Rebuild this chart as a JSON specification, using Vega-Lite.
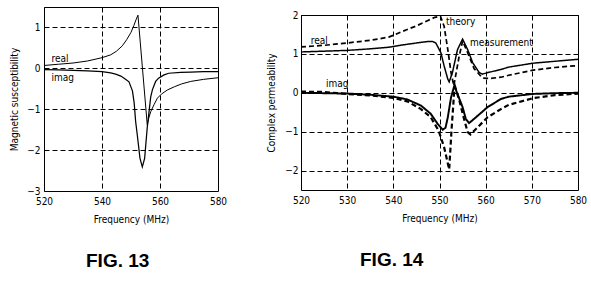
{
  "$schema": "https://vega.github.io/schema/vega-lite/v6.json",
  "background": "white",
  "padding": {"left": 9, "top": 6, "right": 4, "bottom": 0},
  "spacing": 38,
  "datasets": {
    "fig13": [
      {"s": "real", "f": 520, "v": 0.07}, {"s": "real", "f": 525, "v": 0.1}, {"s": "real", "f": 530, "v": 0.13},
      {"s": "real", "f": 535, "v": 0.18}, {"s": "real", "f": 540, "v": 0.26}, {"s": "real", "f": 543, "v": 0.33},
      {"s": "real", "f": 545, "v": 0.42}, {"s": "real", "f": 547, "v": 0.55}, {"s": "real", "f": 548.5, "v": 0.7},
      {"s": "real", "f": 550, "v": 0.88}, {"s": "real", "f": 551, "v": 1.05}, {"s": "real", "f": 551.8, "v": 1.2},
      {"s": "real", "f": 552.4, "v": 1.3}, {"s": "real", "f": 555.6, "v": -1.38}, {"s": "real", "f": 556.2, "v": -1.2},
      {"s": "real", "f": 556.8, "v": -1.06}, {"s": "real", "f": 558, "v": -0.88}, {"s": "real", "f": 559.1, "v": -0.73},
      {"s": "real", "f": 560.5, "v": -0.63}, {"s": "real", "f": 562.5, "v": -0.53}, {"s": "real", "f": 565, "v": -0.45},
      {"s": "real", "f": 567.5, "v": -0.38}, {"s": "real", "f": 570.6, "v": -0.32}, {"s": "real", "f": 575, "v": -0.27},
      {"s": "real", "f": 580, "v": -0.23},
      {"s": "imag", "f": 520, "v": -0.03}, {"s": "imag", "f": 525, "v": -0.04}, {"s": "imag", "f": 530, "v": -0.05},
      {"s": "imag", "f": 535, "v": -0.06}, {"s": "imag", "f": 540, "v": -0.08}, {"s": "imag", "f": 543, "v": -0.11},
      {"s": "imag", "f": 544.7, "v": -0.14}, {"s": "imag", "f": 546.5, "v": -0.19}, {"s": "imag", "f": 548, "v": -0.26},
      {"s": "imag", "f": 549.3, "v": -0.33}, {"s": "imag", "f": 550.5, "v": -0.55}, {"s": "imag", "f": 551.1, "v": -0.85},
      {"s": "imag", "f": 551.6, "v": -1.3}, {"s": "imag", "f": 552.2, "v": -1.65}, {"s": "imag", "f": 553.1, "v": -2.2},
      {"s": "imag", "f": 553.9, "v": -2.41}, {"s": "imag", "f": 554.7, "v": -2.2}, {"s": "imag", "f": 555.6, "v": -1.45},
      {"s": "imag", "f": 556.4, "v": -0.95}, {"s": "imag", "f": 556.8, "v": -0.7}, {"s": "imag", "f": 557.4, "v": -0.52},
      {"s": "imag", "f": 558.5, "v": -0.32}, {"s": "imag", "f": 559.5, "v": -0.24}, {"s": "imag", "f": 561.4, "v": -0.16},
      {"s": "imag", "f": 563, "v": -0.12}, {"s": "imag", "f": 567.2, "v": -0.1}, {"s": "imag", "f": 570.6, "v": -0.09},
      {"s": "imag", "f": 575, "v": -0.08}, {"s": "imag", "f": 580, "v": -0.08}
    ],
    "fig13labels": [
      {"t": "real", "f": 522.6, "v": 0.24},
      {"t": "imag", "f": 522.6, "v": -0.23}
    ],
    "fig14": [
      {"s": "real measurement", "f": 520, "v": 1.05}, {"s": "real measurement", "f": 525, "v": 1.07}, {"s": "real measurement", "f": 530, "v": 1.09},
      {"s": "real measurement", "f": 535, "v": 1.13}, {"s": "real measurement", "f": 539, "v": 1.17}, {"s": "real measurement", "f": 542, "v": 1.23},
      {"s": "real measurement", "f": 545, "v": 1.28}, {"s": "real measurement", "f": 547.5, "v": 1.32}, {"s": "real measurement", "f": 548.5, "v": 1.32},
      {"s": "real measurement", "f": 549.2, "v": 1.28}, {"s": "real measurement", "f": 550.3, "v": 1.03}, {"s": "real measurement", "f": 551, "v": 0.69},
      {"s": "real measurement", "f": 551.8, "v": 0.35}, {"s": "real measurement", "f": 552.1, "v": 0.28}, {"s": "real measurement", "f": 552.8, "v": 0.52},
      {"s": "real measurement", "f": 553.9, "v": 1.11}, {"s": "real measurement", "f": 555, "v": 1.38}, {"s": "real measurement", "f": 556.1, "v": 1.11},
      {"s": "real measurement", "f": 557.2, "v": 0.77}, {"s": "real measurement", "f": 558.6, "v": 0.52}, {"s": "real measurement", "f": 559.3, "v": 0.48},
      {"s": "real measurement", "f": 560.5, "v": 0.52}, {"s": "real measurement", "f": 563.3, "v": 0.6}, {"s": "real measurement", "f": 565, "v": 0.66},
      {"s": "real measurement", "f": 570.2, "v": 0.76}, {"s": "real measurement", "f": 575, "v": 0.81}, {"s": "real measurement", "f": 580, "v": 0.86},
      {"s": "real theory", "f": 520, "v": 1.18}, {"s": "real theory", "f": 525, "v": 1.22}, {"s": "real theory", "f": 530, "v": 1.28},
      {"s": "real theory", "f": 535, "v": 1.35}, {"s": "real theory", "f": 539, "v": 1.43}, {"s": "real theory", "f": 542, "v": 1.58},
      {"s": "real theory", "f": 545, "v": 1.72}, {"s": "real theory", "f": 547.5, "v": 1.86}, {"s": "real theory", "f": 549, "v": 1.94},
      {"s": "real theory", "f": 550.2, "v": 1.97}, {"s": "real theory", "f": 551, "v": 1.71}, {"s": "real theory", "f": 551.8, "v": 1.11},
      {"s": "real theory", "f": 552.5, "v": 0.52}, {"s": "real theory", "f": 553.1, "v": 0.18}, {"s": "real theory", "f": 554.2, "v": 0.9},
      {"s": "real theory", "f": 555, "v": 1.33}, {"s": "real theory", "f": 556.1, "v": 1.03}, {"s": "real theory", "f": 557.5, "v": 0.62},
      {"s": "real theory", "f": 559.3, "v": 0.38}, {"s": "real theory", "f": 561, "v": 0.37}, {"s": "real theory", "f": 563.3, "v": 0.4},
      {"s": "real theory", "f": 565, "v": 0.45}, {"s": "real theory", "f": 570.2, "v": 0.58}, {"s": "real theory", "f": 575, "v": 0.65},
      {"s": "real theory", "f": 580, "v": 0.7},
      {"s": "imag measurement", "f": 520, "v": 0.0}, {"s": "imag measurement", "f": 525, "v": -0.01}, {"s": "imag measurement", "f": 530, "v": -0.02},
      {"s": "imag measurement", "f": 535, "v": -0.05}, {"s": "imag measurement", "f": 540, "v": -0.1}, {"s": "imag measurement", "f": 543, "v": -0.17},
      {"s": "imag measurement", "f": 546, "v": -0.33}, {"s": "imag measurement", "f": 548.1, "v": -0.54}, {"s": "imag measurement", "f": 549.6, "v": -0.8},
      {"s": "imag measurement", "f": 550.7, "v": -0.95}, {"s": "imag measurement", "f": 551.3, "v": -0.9}, {"s": "imag measurement", "f": 551.8, "v": -0.63},
      {"s": "imag measurement", "f": 552.5, "v": -0.12}, {"s": "imag measurement", "f": 553.2, "v": 0.18}, {"s": "imag measurement", "f": 553.9, "v": -0.03},
      {"s": "imag measurement", "f": 555, "v": -0.37}, {"s": "imag measurement", "f": 555.7, "v": -0.67}, {"s": "imag measurement", "f": 556.4, "v": -0.78},
      {"s": "imag measurement", "f": 557.9, "v": -0.63}, {"s": "imag measurement", "f": 560.4, "v": -0.37}, {"s": "imag measurement", "f": 563.3, "v": -0.16},
      {"s": "imag measurement", "f": 565, "v": -0.1}, {"s": "imag measurement", "f": 570.2, "v": -0.03}, {"s": "imag measurement", "f": 575, "v": -0.01},
      {"s": "imag measurement", "f": 580, "v": 0.0},
      {"s": "imag theory", "f": 520, "v": 0.03}, {"s": "imag theory", "f": 525, "v": 0.02}, {"s": "imag theory", "f": 530, "v": -0.03},
      {"s": "imag theory", "f": 535, "v": -0.07}, {"s": "imag theory", "f": 540, "v": -0.13}, {"s": "imag theory", "f": 543, "v": -0.22},
      {"s": "imag theory", "f": 546, "v": -0.42}, {"s": "imag theory", "f": 548.1, "v": -0.63}, {"s": "imag theory", "f": 549.8, "v": -0.97},
      {"s": "imag theory", "f": 551, "v": -1.4}, {"s": "imag theory", "f": 552.1, "v": -1.97}, {"s": "imag theory", "f": 552.6, "v": -0.97},
      {"s": "imag theory", "f": 553.2, "v": 0.05}, {"s": "imag theory", "f": 553.4, "v": 0.15}, {"s": "imag theory", "f": 554.3, "v": -0.2},
      {"s": "imag theory", "f": 555.4, "v": -0.71}, {"s": "imag theory", "f": 556.1, "v": -1.01}, {"s": "imag theory", "f": 556.7, "v": -1.07},
      {"s": "imag theory", "f": 557.9, "v": -0.93}, {"s": "imag theory", "f": 560.4, "v": -0.63}, {"s": "imag theory", "f": 563.3, "v": -0.42},
      {"s": "imag theory", "f": 565, "v": -0.31}, {"s": "imag theory", "f": 570.2, "v": -0.14}, {"s": "imag theory", "f": 575, "v": -0.06},
      {"s": "imag theory", "f": 580, "v": -0.02}
    ],
    "fig14labels": [
      {"t": "real", "f": 522.1, "v": 1.33},
      {"t": "imag", "f": 525.4, "v": 0.23},
      {"t": "theory", "f": 551.4, "v": 1.81},
      {"t": "measurement", "f": 556.6, "v": 1.28}
    ]
  },
  "hconcat": [
    {
      "width": 174,
      "height": 184,
      "title": {"text": "FIG. 13", "orient": "bottom", "anchor": "start", "frame": "group", "dx": 42, "offset": 28, "fontSize": 19, "fontWeight": "bold", "font": "Liberation Sans", "color": "black"},
      "layer": [
        {
          "data": {"name": "fig13"},
          "mark": {"type": "line", "color": "black", "clip": true},
          "encoding": {
            "x": {"field": "f", "type": "quantitative", "scale": {"domain": [520, 580], "nice": false, "zero": false},
                  "axis": {"title": "Frequency (MHz)", "values": [520, 530, 540, 550, 560, 570, 580], "labelFlush": false, "labelOverlap": false, "labelExpr": "abs(datum.value % 20) < 0.001 ? format(datum.value, 'd') : ''", "labelPadding": 5, "titlePadding": 8}},
            "y": {"field": "v", "type": "quantitative", "scale": {"domain": [-3, 1.5], "nice": false, "zero": false},
                  "axis": {"title": "Magnetic susceptibility", "values": [-3, -2.5, -2, -1.5, -1, -0.5, 0, 0.5, 1, 1.5], "labelFlush": false, "labelOverlap": false, "labelExpr": "abs(datum.value - round(datum.value)) < 0.001 ? format(datum.value, 'd') : ''", "labelPadding": 4, "titlePadding": 7}},
            "detail": {"field": "s"},
            "strokeWidth": {"field": "s", "type": "nominal", "scale": {"domain": ["real", "imag"], "range": [1, 2.2]}, "legend": null}
          }
        },
        {
          "data": {"name": "fig13labels"},
          "mark": {"type": "text", "align": "left", "baseline": "middle", "fontSize": 10, "color": "black"},
          "encoding": {
            "x": {"field": "f", "type": "quantitative"},
            "y": {"field": "v", "type": "quantitative"},
            "text": {"field": "t"}
          }
        }
      ]
    },
    {
      "spacing": 1,
      "vconcat": [
        {
          "width": 277,
          "height": 1,
          "view": {"stroke": null},
          "data": {"values": []},
          "mark": {"type": "point", "opacity": 0},
          "encoding": {}
        },
        {
          "width": 277,
          "height": 175,
          "title": {"text": "FIG. 14", "orient": "bottom", "anchor": "start", "frame": "group", "dx": 59, "offset": 28, "fontSize": 19, "fontWeight": "bold", "font": "Liberation Sans", "color": "black"},
          "layer": [
            {
              "data": {"name": "fig14"},
              "mark": {"type": "line", "color": "black", "clip": true},
              "encoding": {
                "x": {"field": "f", "type": "quantitative", "scale": {"domain": [520, 580], "nice": false, "zero": false},
                      "axis": {"title": "Frequency (MHz)", "values": [520, 525, 530, 535, 540, 545, 550, 555, 560, 565, 570, 575, 580], "labelFlush": false, "labelOverlap": false, "labelExpr": "abs(datum.value % 10) < 0.001 ? format(datum.value, 'd') : ''", "labelPadding": 5, "titlePadding": 8}},
                "y": {"field": "v", "type": "quantitative", "scale": {"domain": [-2.5, 2], "nice": false, "zero": false},
                      "axis": {"title": "Complex permeability", "values": [-2, -1.5, -1, -0.5, 0, 0.5, 1, 1.5, 2], "labelFlush": false, "labelOverlap": false, "labelExpr": "abs(datum.value - round(datum.value)) < 0.001 ? format(datum.value, 'd') : ''", "labelPadding": 3, "titlePadding": 8}},
                "detail": {"field": "s"},
                "strokeDash": {"field": "s", "type": "nominal", "scale": {"domain": ["real measurement", "real theory", "imag measurement", "imag theory"], "range": [[1, 0], [5, 3], [1, 0], [5, 3]]}, "legend": null},
                "strokeWidth": {"field": "s", "type": "nominal", "scale": {"domain": ["real measurement", "real theory", "imag measurement", "imag theory"], "range": [1.5, 1.1, 1.5, 1.1]}, "legend": null}
              }
            },
            {
              "data": {"name": "fig14labels"},
              "mark": {"type": "text", "align": "left", "baseline": "middle", "fontSize": 10, "color": "black"},
              "encoding": {
                "x": {"field": "f", "type": "quantitative"},
                "y": {"field": "v", "type": "quantitative"},
                "text": {"field": "t"}
              }
            }
          ]
        }
      ]
    }
  ],
  "config": {
    "font": "Liberation Sans Narrow, DejaVu Sans Condensed, Liberation Sans",
    "view": {"stroke": "black", "strokeWidth": 1},
    "axis": {
      "grid": true, "gridColor": "black", "gridDash": [5, 3], "gridOpacity": 1, "gridWidth": 1,
      "domain": false, "ticks": false, "labelOverlap": false, "labelFlush": false,
      "labelFontSize": 10, "labelColor": "black",
      "titleFontSize": 10, "titleFontWeight": "normal", "titleColor": "black"
    }
  }
}
